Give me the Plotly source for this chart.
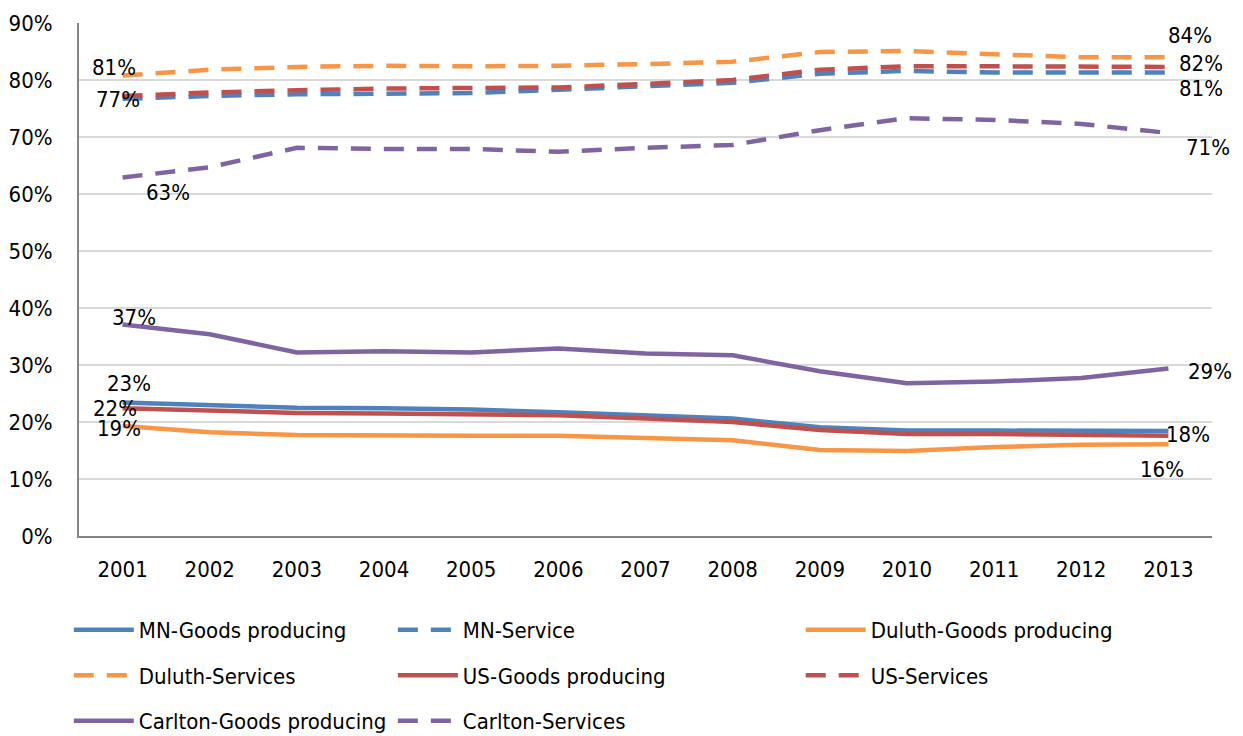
import plotly.graph_objects as go

years = [str(y) for y in range(2001, 2014)]

mn_goods = [23.4, 22.9, 22.5, 22.4, 22.2, 21.7, 21.1, 20.6, 19.1, 18.5, 18.5, 18.5, 18.4]
mn_service = [76.7, 77.2, 77.5, 77.6, 77.7, 78.3, 78.9, 79.5, 81.1, 81.6, 81.3, 81.3, 81.3]
duluth_goods = [19.3, 18.2, 17.7, 17.6, 17.6, 17.6, 17.2, 16.8, 15.1, 14.9, 15.6, 16.0, 16.1]
duluth_services = [80.8, 81.8, 82.3, 82.5, 82.4, 82.5, 82.8, 83.2, 84.9, 85.1, 84.5, 84.0, 84.0]
us_goods = [22.4, 22.0, 21.6, 21.5, 21.3, 21.2, 20.6, 20.0, 18.6, 17.9, 17.9, 17.8, 17.6]
us_services = [77.2, 77.8, 78.2, 78.5, 78.6, 78.7, 79.3, 80.0, 81.8, 82.4, 82.4, 82.4, 82.3]
carlton_goods = [37.1, 35.4, 32.2, 32.4, 32.2, 32.9, 32.0, 31.7, 28.9, 26.8, 27.1, 27.7, 29.4]
carlton_services = [62.9, 64.7, 68.1, 67.9, 67.9, 67.4, 68.1, 68.6, 71.2, 73.3, 73.0, 72.3, 70.7]

BLUE, ORANGE, RED, PURPLE = "#4F81BD", "#F79646", "#C0504D", "#8064A2"
FONT = "DejaVu Sans Condensed, Liberation Sans Narrow, Liberation Sans, sans-serif"
DASH = "20px,13px"

# (name, values, colour, dashed, legend column)
series = [
    ("MN-Goods producing", mn_goods, BLUE, False, "legend"),
    ("Duluth-Services", duluth_services, ORANGE, True, "legend"),
    ("Carlton-Goods producing", carlton_goods, PURPLE, False, "legend"),
    ("MN-Service", mn_service, BLUE, True, "legend2"),
    ("US-Goods producing", us_goods, RED, False, "legend2"),
    ("Carlton-Services", carlton_services, PURPLE, True, "legend2"),
    ("Duluth-Goods producing", duluth_goods, ORANGE, False, "legend3"),
    ("US-Services", us_services, RED, True, "legend3"),
]

fig = go.Figure()
for i, (name, vals, color, dashed, leg) in enumerate(series):
    fig.add_trace(go.Scatter(
        x=years, y=[v / 100 for v in vals], mode="lines", name=name,
        line=dict(color=color, width=4.5, dash=DASH if dashed else "solid"),
        legend=leg, legendgroup=str(i),
    ))

# value labels at the first and last year: (values, index, xshift, yshift)
labels = [
    (duluth_services, 0, -9, 8),
    (mn_service, 0, -5, -1),
    (carlton_services, 0, 45, -15),
    (carlton_goods, 0, 11, 7),
    (mn_goods, 0, 6, 19),
    (us_goods, 0, -8, 0),
    (duluth_goods, 0, -4, -3),
    (duluth_services, 12, 22, 22),
    (us_services, 12, 33, 3),
    (mn_service, 12, 33, -16),
    (carlton_services, 12, 40, -14),
    (carlton_goods, 12, 42, -3),
    (mn_goods, 12, 20, -3),
    (duluth_goods, 12, -6, -25),
]
annotations = []
for vals, idx, dx, dy in labels:
    annotations.append(dict(
        xref="x", yref="y", x=idx, y=vals[idx] / 100,
        text="%d%%" % round(vals[idx]),
        showarrow=False, xshift=dx, yshift=dy,
        font=dict(family=FONT, size=22, color="#000000"),
    ))

legend_common = dict(
    orientation="v", yanchor="top", xanchor="left", y=-0.142,
    font=dict(family=FONT, size=22, color="#000000"),
    itemwidth=60, tracegroupgap=14, bgcolor="rgba(0,0,0,0)",
)
fig.update_layout(
    width=1243, height=736,
    margin=dict(l=79, r=31, t=23, b=200, autoexpand=False),
    paper_bgcolor="white", plot_bgcolor="white",
    font=dict(family=FONT, size=21, color="#000000"),
    showlegend=True,
    annotations=annotations,
    legend=dict(x=-0.009, **legend_common),
    legend2=dict(x=0.277, **legend_common),
    legend3=dict(x=0.637, **legend_common),
    xaxis=dict(
        type="category", range=[-0.5, 12.5], showgrid=False,
        showline=True, linecolor="#868686", linewidth=2,
        ticks="", ticklabelstandoff=13, tickfont=dict(family=FONT, size=22),
        fixedrange=True,
    ),
    yaxis=dict(
        range=[0, 0.9], dtick=0.1, tickformat=".0%",
        showgrid=True, gridcolor="#D9D9D9", gridwidth=1.5,
        showline=True, linecolor="#868686", linewidth=2, zeroline=False,
        ticks="", ticklabelstandoff=20, tickfont=dict(family=FONT, size=22),
        fixedrange=True,
    ),
)

fig.write_html("out.html")
